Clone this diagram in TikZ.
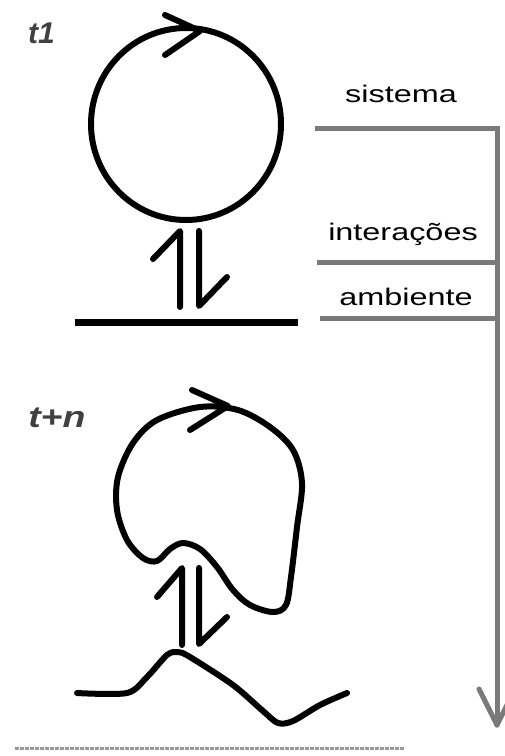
\documentclass[tikz,border=0pt]{standalone}
\usepackage{fontspec}
\setmainfont{Liberation Sans}
\begin{document}
\begin{tikzpicture}[x=1pt,y=-1pt,
  ink/.style={line width=6pt,line cap=round,line join=round,black},
  guide/.style={line width=5pt,color=black!52},
  lbl/.style={inner sep=0pt,anchor=base,xscale=1.35,font=\fontsize{24}{24}\selectfont},
  tlbl/.style={inner sep=0pt,anchor=base west,text=black!75,font=\fontsize{30}{30}\selectfont\bfseries\itshape}]
\useasboundingbox (0,0) rectangle (505,756);
% time labels
\node[tlbl] (t1) at (28,43) {t1};
\node[tlbl,xscale=1.25] (tn) at (28,427) {t+n};
% t1 system
\draw[ink] (186,124) circle[x radius=95pt,y radius=96pt];
\draw[ink] (165,15) -- (200,31) -- (165,55);
\draw[ink] (180,307) -- (180,231) -- (153,259);
\draw[ink] (199,231) -- (199,306) -- (227,277);
\draw[line width=7pt,black] (75,322) -- (298,322);
% t+n system
\draw[ink] plot[smooth cycle,tension=0.55] coordinates {
 (200,407) (157,420) (133,443) (118,477) (117,510) (127,540) (143,558)
 (157,561) (170,549) (183,543) (200,549) (217,567) (233,590) (250,605)
 (273,612) (286,605) (291,577) (297,527) (302,483) (293,450) (270,427) (238,410)};
\draw[ink] (192,390) -- (228,406) -- (190,430);
\draw[ink] (182,645) -- (182,568) -- (157,597);
\draw[ink] (199,568) -- (199,644) -- (227,617);
\draw[ink] plot[smooth,tension=0.5] coordinates {
 (77,693) (127,693) (147,677) (167,655) (178,652) (190,657) (233,685)
 (263,711) (278,723) (293,721) (320,705) (347,693)};
% right side scale
\coordinate (top) at (315,128);
\coordinate (corner) at (497,128);
\coordinate (tip) at (497,725);
\draw[guide] (top) -- (corner) -- (tip);
\draw[guide,line cap=round] (tip) -- (479,689);
\draw[guide,line cap=round] (tip) -- (515,689);
\draw[guide] (317,262) -- (497,262);
\draw[guide] (320,318) -- (497,318);
\node[lbl] (sis) at (401,102) {sistema};
\node[lbl] (int) at (403,240) {interações};
\node[lbl] (amb) at (406,305) {ambiente};
% bottom faint line
\draw[line width=3pt,black!40,dash pattern=on 4pt off 1pt] (15,748) -- (405,748);
\end{tikzpicture}
\end{document}
